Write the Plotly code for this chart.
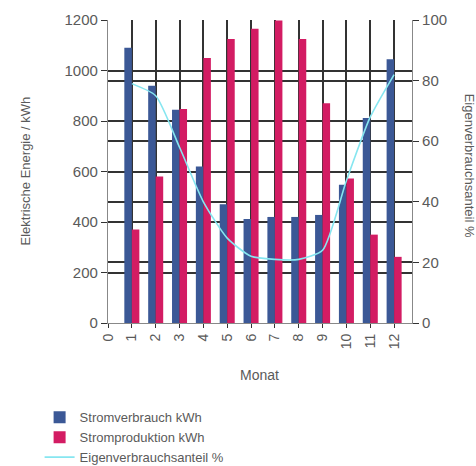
import plotly.graph_objects as go

# Monthly energy balance
monate = list(range(1, 13))
stromverbrauch = [1090, 940, 845, 620, 470, 412, 420, 420, 428, 548, 812, 1045]
stromproduktion = [370, 580, 848, 1050, 1125, 1165, 1198, 1125, 870, 572, 350, 262]
eigenverbrauch = [79, 75, 58, 40, 28, 22, 21, 21, 24, 47, 68, 82]

x_ticks = list(range(0, 13))
y_left_ticks = [0, 200, 400, 600, 800, 1000, 1200]
y_right_ticks = [0, 20, 40, 60, 80, 100]

FONT = "Liberation Sans, Arial, sans-serif"
GRID = "#333333"
TXT = "#5a5a5a"

fig = go.Figure()
fig.add_trace(go.Bar(x=monate, y=stromverbrauch, name="Stromverbrauch kWh",
                     marker=dict(color="#3b5896", line=dict(width=0))))
fig.add_trace(go.Bar(x=monate, y=stromproduktion, name="Stromproduktion kWh",
                     marker=dict(color="#d31c63", line=dict(width=0))))
fig.add_trace(go.Scatter(x=monate, y=eigenverbrauch, name="Eigenverbrauchsanteil %",
                         yaxis="y2", mode="lines",
                         line=dict(color="#86e6f0", width=1.6, shape="spline", smoothing=0.6)))

fig.update_layout(
    width=476, height=466,
    margin=dict(l=108, r=64, t=20, b=143, autoexpand=False),
    paper_bgcolor="white", plot_bgcolor="white",
    barmode="group", bargap=0.37, bargroupgap=0,
    font=dict(family=FONT, size=14, color=TXT),
    xaxis=dict(range=[0, 12.75], tickmode="array", tickvals=x_ticks,
               ticktext=[str(v) for v in x_ticks], tickangle=-90,
               showgrid=True, gridcolor=GRID, gridwidth=1.5,
               showline=True, linecolor="#888", linewidth=1.2,
               ticks="outside", ticklen=4, tickcolor=GRID,
               tickfont=dict(size=14, color=TXT), zeroline=False),
    yaxis=dict(range=[0, 1200], tickmode="array", tickvals=y_left_ticks,
               showgrid=True, gridcolor=GRID, gridwidth=1.5,
               showline=True, linecolor="#888", linewidth=1.2,
               ticks="outside", ticklen=6, tickcolor=GRID,
               tickfont=dict(size=15, color=TXT), zeroline=False),
    yaxis2=dict(range=[0, 100], tickmode="array", tickvals=y_right_ticks,
                overlaying="y", side="right",
                showgrid=True, gridcolor=GRID, gridwidth=1.5,
                showline=True, linecolor="#888", linewidth=1.2,
                ticks="outside", ticklen=6, tickcolor=GRID,
                tickfont=dict(size=15, color=TXT), zeroline=False),
    legend=dict(x=-0.225, y=-0.262, xanchor="left", yanchor="top",
                orientation="v", font=dict(size=13, color=TXT),
                bgcolor="rgba(0,0,0,0)", itemwidth=30, tracegroupgap=0),
    showlegend=True,
    annotations=[
        dict(text="Elektrische Energie / kWh", xref="paper", yref="paper",
             x=-0.273, y=0.5, xanchor="center", yanchor="middle",
             textangle=-90, showarrow=False, font=dict(size=13, color=TXT)),
        dict(text="Eigenverbrauchsanteil %", xref="paper", yref="paper",
             x=1.19, y=0.52, xanchor="center", yanchor="middle",
             textangle=90, showarrow=False, font=dict(size=13, color=TXT)),
        dict(text="Monat", xref="paper", yref="paper",
             x=0.497, y=-0.172, xanchor="center", yanchor="middle",
             showarrow=False, font=dict(size=14, color=TXT)),
    ],
)

fig.write_html("out.html")
